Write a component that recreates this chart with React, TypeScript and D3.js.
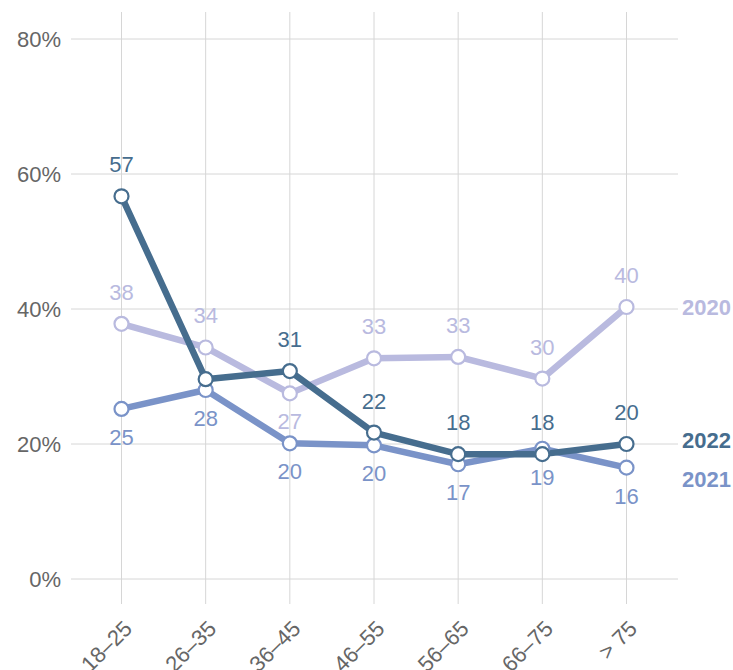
import React from "react";
import * as d3 from "d3";

const categories = ["18–25", "26–35", "36–45", "46–55", "56–65", "66–75", "> 75"];
const values2020 = [37.8, 34.3, 27.5, 32.7, 32.9, 29.7, 40.3];
const values2021 = [25.2, 28.0, 20.1, 19.8, 17.0, 19.3, 16.5];
const values2022 = [56.7, 29.6, 30.8, 21.7, 18.5, 18.5, 20.0];
const labels2020 = [38, 34, 27, 33, 33, 30, 40];
const labels2021 = [25, 28, 20, 20, 17, 19, 16];
const labels2022 = [57, null, 31, 22, 18, 18, 20];
const pos2020 = ["above", "above", "below", "above", "above", "above", "above"];
const pos2021 = ["below", "below", "below", "below", "below", "below", "below"];
const pos2022 = ["above", "above", "above", "above", "above", "above", "above"];
const yTicks = [0, 20, 40, 60, 80];

const series = [
  { name: "2020", values: values2020, labels: labels2020, pos: pos2020, color: "#b9badf", labelY: 40.3, labelDy: 0 },
  { name: "2021", values: values2021, labels: labels2021, pos: pos2021, color: "#7a93c8", labelY: 16.5, labelDy: 11 },
  { name: "2022", values: values2022, labels: labels2022, pos: pos2022, color: "#466d8e", labelY: 20.0, labelDy: -4 },
];

export default function App() {
  const width = 733;
  const height = 670;
  const x = d3.scalePoint<string>().domain(categories).range([121.5, 626.5]);
  const y = d3.scaleLinear().domain([0, 80]).range([579, 39]);
  const line = d3
    .line<number>()
    .x((_, i) => x(categories[i]) as number)
    .y((d) => y(d));
  const font = "Helvetica, 'Liberation Sans', Arial, sans-serif";

  return (
    <svg
      width={width}
      height={height}
      style={{ position: "absolute", left: 0, top: 0, fontFamily: font }}
    >
      <rect width={width} height={height} fill="#fff" />
      {categories.map((c) => (
        <line key={c} x1={x(c)} x2={x(c)} y1={12} y2={604} stroke="#d6d6d6" strokeWidth={1} />
      ))}
      {yTicks.map((t) => (
        <g key={t}>
          <line x1={71} x2={678} y1={y(t)} y2={y(t)} stroke="#d6d6d6" strokeWidth={1} />
          <text x={61} y={y(t) + 8} textAnchor="end" fontSize={22} fill="#666">
            {t}%
          </text>
        </g>
      ))}
      {categories.map((c) => (
        <text
          key={"xl" + c}
          transform={`translate(${(x(c) as number) + 12},${630}) rotate(-45)`}
          textAnchor="end"
          fontSize={22}
          fill="#666"
        >
          {c}
        </text>
      ))}
      {series.map((s) => (
        <path key={"l" + s.name} d={line(s.values) || ""} fill="none" stroke={s.color} strokeWidth={6.5} strokeLinejoin="round" />
      ))}
      {series.map((s) => (
        <g key={"p" + s.name}>
          {s.values.map((v, i) => (
            <circle key={i} cx={x(categories[i])} cy={y(v)} r={7} fill="#fff" stroke={s.color} strokeWidth={2.2} />
          ))}
        </g>
      ))}
      {series.map((s) => (
        <g key={"t" + s.name}>
          {s.values.map((v, i) =>
            s.labels[i] == null ? null : (
              <text
                key={i}
                x={x(categories[i])}
                y={s.pos[i] === "above" ? y(v) - 24 : y(v) + 36}
                textAnchor="middle"
                fontSize={22}
                fill={s.color}
              >
                {s.labels[i]}
              </text>
            )
          )}
          <text x={682} y={y(s.labelY) + 8 + s.labelDy} fontSize={22} fontWeight="bold" fill={s.color}>
            {s.name}
          </text>
        </g>
      ))}
    </svg>
  );
}
